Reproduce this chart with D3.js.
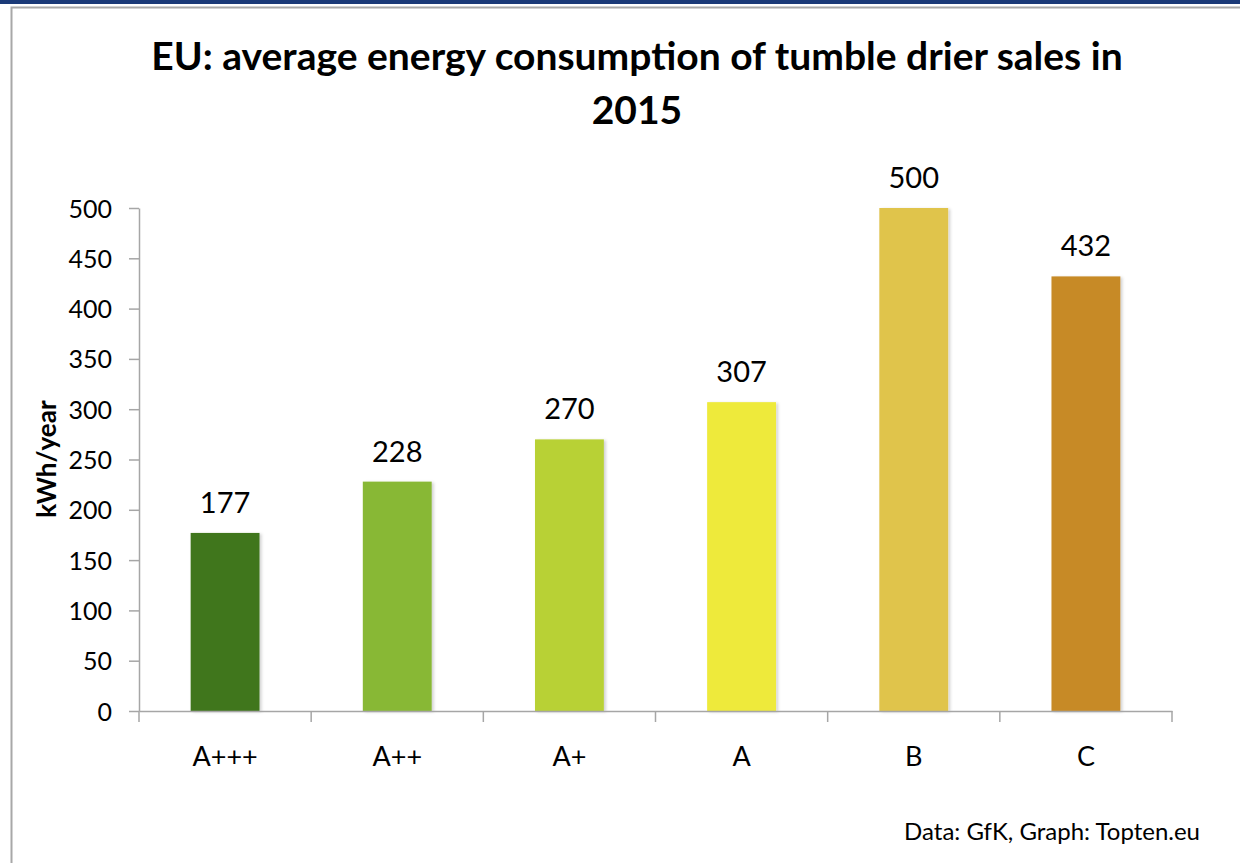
<!DOCTYPE html>
<html>
<head>
<meta charset="utf-8">
<script src="https://cdn.jsdelivr.net/npm/d3@7"></script>
<style>
    html, body { margin: 0; padding: 0; background: #ffffff; }
    svg { display: block; }
    .axis path, .axis line { stroke: #a6a6a6; stroke-width: 1.5; }
    .axis text { fill: #000000; font-family: Lato, "Open Sans", sans-serif; }
</style>
</head>
<body>
<svg id="chart"></svg>
<script>
/* =========================================================
   Data
   ========================================================= */

const CATEGORIES = ["A+++", "A++", "A+", "A", "B", "C"];
const VALUES     = [177, 228, 270, 307, 500, 432];
const BAR_COLORS = ["#41761e", "#88b834", "#b8d136", "#eeea3a", "#e0c44c", "#c78a26"];
const Y_TICKS    = [0, 50, 100, 150, 200, 250, 300, 350, 400, 450, 500];

const TITLE_LINES = ["EU: average energy consumption of tumble drier sales in", "2015"];
const Y_LABEL     = "kWh/year";
const SOURCE      = "Data: GfK, Graph: Topten.eu";

/* =========================================================
   Layout
   ========================================================= */

const WIDTH  = 1240;
const HEIGHT = 863;
const PLOT   = { left: 139, right: 1172, top: 208, bottom: 711 };
const FONT   = "Lato, 'Open Sans', sans-serif";

const svg = d3.select("#chart")
    .attr("width", WIDTH)
    .attr("height", HEIGHT);

/* frame: blue strip at top, grey box around the chart */
svg.append("rect")
    .attr("x", 0).attr("y", 0)
    .attr("width", WIDTH).attr("height", 4)
    .attr("fill", "#1b3a78");

svg.append("rect")
    .attr("x", 11.5).attr("y", 7.5)
    .attr("width", WIDTH + 20).attr("height", HEIGHT)
    .attr("fill", "none")
    .attr("stroke", "#a8a8a8")
    .attr("stroke-width", 2);

/* soft bar shadow */
const defs = svg.append("defs");
const shadow = defs.append("filter")
    .attr("id", "barShadow")
    .attr("x", "-10%").attr("y", "-5%")
    .attr("width", "130%").attr("height", "115%");
shadow.append("feDropShadow")
    .attr("dx", 2).attr("dy", 1)
    .attr("stdDeviation", 1.5)
    .attr("flood-color", "#000000")
    .attr("flood-opacity", 0.18);

/* =========================================================
   Scales
   ========================================================= */

const x = d3.scaleBand()
    .domain(CATEGORIES)
    .range([PLOT.left, PLOT.right])
    .padding(0);

const y = d3.scaleLinear()
    .domain([0, 500])
    .range([PLOT.bottom, PLOT.top]);

const BAR_RATIO = 0.4;
const barWidth = x.bandwidth() * BAR_RATIO;

/* =========================================================
   Bars and labels
   ========================================================= */

svg.append("g")
    .selectAll("rect")
    .data(VALUES)
    .join("rect")
    .attr("x", (_, i) => x(CATEGORIES[i]) + (x.bandwidth() - barWidth) / 2)
    .attr("y", v => y(v))
    .attr("width", barWidth)
    .attr("height", v => y(0) - y(v))
    .attr("fill", (_, i) => BAR_COLORS[i])
    .attr("filter", "url(#barShadow)");

svg.append("g")
    .selectAll("text")
    .data(VALUES)
    .join("text")
    .attr("x", (_, i) => x(CATEGORIES[i]) + x.bandwidth() / 2)
    .attr("y", v => y(v) - 20)
    .attr("text-anchor", "middle")
    .attr("font-family", FONT)
    .attr("font-size", 29)
    .attr("fill", "#000000")
    .text(v => v);

/* =========================================================
   Axes
   ========================================================= */

const yAxis = svg.append("g")
    .attr("class", "axis")
    .attr("transform", `translate(${PLOT.left},0)`)
    .call(d3.axisLeft(y).tickValues(Y_TICKS).tickSize(10).tickPadding(17).tickSizeOuter(0));
yAxis.selectAll("text").attr("font-size", 25).attr("dy", "0.36em");

const xAxis = svg.append("g")
    .attr("class", "axis")
    .attr("transform", `translate(0,${PLOT.bottom})`)
    .call(d3.axisBottom(x).tickSize(0).tickSizeOuter(0).tickPadding(36));
xAxis.selectAll("text").attr("font-size", 27).attr("dy", "0.71em");

/* category boundary ticks */
xAxis.append("g")
    .selectAll("line")
    .data(CATEGORIES.concat([null]))
    .join("line")
    .attr("x1", c => c === null ? PLOT.right : x(c))
    .attr("x2", c => c === null ? PLOT.right : x(c))
    .attr("y1", 0)
    .attr("y2", 11);

/* =========================================================
   Titles
   ========================================================= */

svg.append("text")
    .attr("text-anchor", "middle")
    .attr("font-family", FONT)
    .attr("font-weight", 700)
    .attr("font-size", 39)
    .attr("fill", "#000000")
    .selectAll("tspan")
    .data(TITLE_LINES)
    .join("tspan")
    .attr("x", 637)
    .attr("y", (_, i) => 70 + i * 54)
    .text(d => d);

svg.append("text")
    .attr("transform", "translate(56,459) rotate(-90)")
    .attr("text-anchor", "middle")
    .attr("font-family", FONT)
    .attr("font-weight", 700)
    .attr("font-size", 26)
    .attr("fill", "#000000")
    .text(Y_LABEL);

svg.append("text")
    .attr("x", 1200)
    .attr("y", 840)
    .attr("text-anchor", "end")
    .attr("font-family", FONT)
    .attr("font-size", 24)
    .attr("fill", "#000000")
    .text(SOURCE);
</script>
</body>
</html>
